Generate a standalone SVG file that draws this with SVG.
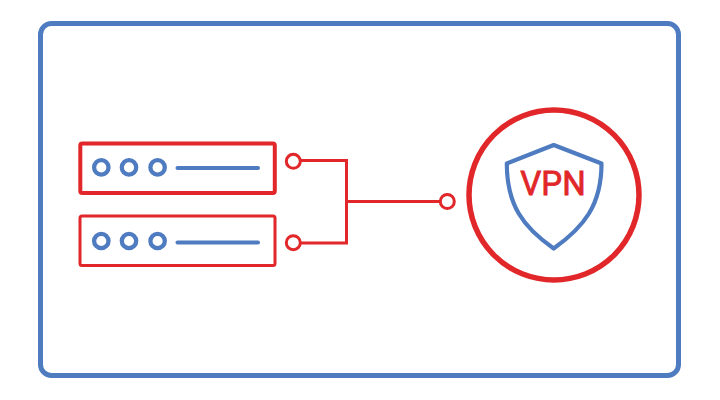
<svg xmlns="http://www.w3.org/2000/svg" width="720" height="400" viewBox="0 0 720 400">
<style>
.b{fill:none;stroke:#4f7bc0}
.r{fill:none;stroke:#e12729}
.w{fill:#fff;stroke:#e12729;stroke-width:3}
.t{fill:#e12729;stroke:#e12729;stroke-width:0.8px;font-family:Roboto,"Liberation Sans",sans-serif;font-size:33px;font-weight:400;text-anchor:middle}
</style>
<rect width="720" height="400" fill="#fff"/>
<rect id="frame" class="b" x="40.500" y="23.500" width="638" height="352" rx="11" stroke-width="5"/>
<g id="server1">
<rect class="r" x="80.300" y="143.600" width="194.500" height="49.500" rx="2" stroke-width="4"/>
<circle class="b" cx="101.300" cy="167.400" r="7.200" stroke-width="4.300"/>
<circle class="b" cx="129" cy="167.400" r="7.200" stroke-width="4.300"/>
<circle class="b" cx="157.600" cy="167.400" r="7.200" stroke-width="4.300"/>
<line class="b" x1="177.500" y1="168" x2="258" y2="168" stroke-width="4" stroke-linecap="round"/>
</g>
<g id="server2">
<rect class="r" x="80" y="216" width="195" height="49.500" rx="2" stroke-width="3"/>
<circle class="b" cx="101.300" cy="241" r="7.200" stroke-width="4.300"/>
<circle class="b" cx="129" cy="241" r="7.200" stroke-width="4.300"/>
<circle class="b" cx="157.600" cy="241" r="7.200" stroke-width="4.300"/>
<line class="b" x1="177.500" y1="242.500" x2="258" y2="242.500" stroke-width="4" stroke-linecap="round"/>
</g>
<g id="connectors">
<path class="r" d="M300 160.500H346.500V243H300M346.500 201.500H441" stroke-width="3"/>
<circle class="w" cx="293.300" cy="161.300" r="7"/>
<circle class="w" cx="293.300" cy="242.700" r="7"/>
<circle class="w" cx="447.300" cy="201.500" r="7"/>
</g>
<g id="vpn">
<circle class="r" cx="554" cy="195" r="85" stroke-width="5.500"/>
<path class="b" d="M553.700 145L506.800 163.500C506.800 205 523 227 553.700 248.500C584 227 601.500 205 601.500 163.500Z" stroke-width="4.200" stroke-linejoin="round"/>
<text class="t" x="553" y="195">VPN</text>
</g>
</svg>
